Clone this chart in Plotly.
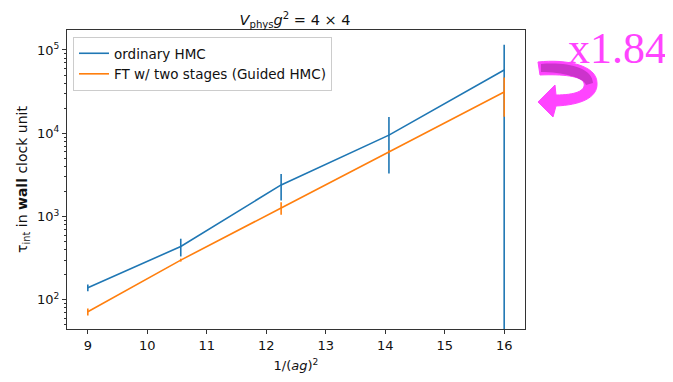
import plotly.graph_objects as go

# ---- data ----
inv_ag2 = [9, 10.5625, 12.25, 14.0625, 16]
hmc_tau = [140, 437, 2400, 9500, 57500]
hmc_err = [13, 105, 840, 6200, 58000]
ft_tau = [72, 300, 1270, 6000, 31250]
ft_err = [7, 12, 220, 250, 15500]
ytick_vals = [100, 1000, 10000, 100000]
ytick_text = ["10<sup>2</sup>", "10<sup>3</sup>", "10<sup>4</sup>", "10<sup>5</sup>"]
ratio_label = "x1.84"

BLUE = "#1f77b4"
ORANGE = "#ff7f0e"
MAG = "#ff44ff"
MAG_DARK = "#cc33cc"

OFF = 8  # page body margin
W, H = 673 - OFF, 382 - OFF
# reference plot area (page px): left 67, right 525, top 30, bottom 329
L, T = 67 - OFF, 30 - OFF
R, B = W - (525 - OFF), H - (329 - OFF)
PW, PH = W - L - R, H - T - B

def px(x, y):
    """reference page pixel -> paper coords"""
    return "%.5f,%.5f" % ((x - 67) / PW, (329 - y) / PH)

FONT = "DejaVu Sans"
fig = go.Figure()
fig.add_trace(go.Scatter(
    x=inv_ag2, y=hmc_tau, mode="lines", name="ordinary HMC",
    line=dict(color=BLUE, width=1.6),
    error_y=dict(type="data", array=hmc_err, color=BLUE, thickness=1.6, width=0),
))
fig.add_trace(go.Scatter(
    x=inv_ag2, y=ft_tau, mode="lines", name="FT w/ two stages (Guided HMC)",
    line=dict(color=ORANGE, width=1.6),
    error_y=dict(type="data", array=ft_err, color=ORANGE, thickness=1.6, width=0),
))

axis_common = dict(
    showline=True, linecolor="#333", linewidth=1, mirror=True,
    ticks="outside", ticklen=4, tickcolor="#333", showgrid=False, zeroline=False,
    tickfont=dict(family=FONT, size=13, color="#111"), automargin=False,
)

fig.update_xaxes(
    range=[8.65, 16.35], tickvals=[9, 10, 11, 12, 13, 14, 15, 16],
    title=dict(text="1/(<i>ag</i>)<sup>2</sup>", font=dict(family=FONT, size=13, color="#111"), standoff=9),
    **axis_common,
)
fig.update_yaxes(
    type="log", range=[1.65, 5.24], tickvals=ytick_vals, ticktext=ytick_text,
    minor=dict(ticks="outside", ticklen=2, tickcolor="#333", dtick="D1", showgrid=False),
    title=dict(text="τ<sub>int</sub> in <b>wall</b> clock unit", font=dict(family=FONT, size=14, color="#111"), standoff=6),
    **axis_common,
)

# curved arrow (decoration)
arrow = ("M" + px(538, 62) + " C" + px(566, 59) + " " + px(597, 65) + " " + px(597, 83) +
         " C" + px(598, 98) + " " + px(580, 105) + " " + px(556, 106) +
         " L" + px(553, 117) + " L" + px(538, 102) + " L" + px(555, 85) + " L" + px(556, 95) +
         " C" + px(575, 95) + " " + px(586, 91) + " " + px(584, 83) +
         " C" + px(582, 76) + " " + px(562, 74) + " " + px(540, 75) + " Z")
band = ("M" + px(541, 64) + " C" + px(566, 62) + " " + px(592, 67) + " " + px(593, 83) +
        " L" + px(586, 85) + " C" + px(585, 78) + " " + px(562, 72) + " " + px(541, 72) + " Z")
fig.add_shape(type="path", path=arrow, xref="paper", yref="paper",
              fillcolor=MAG, line=dict(color=MAG, width=1), layer="above")
fig.add_shape(type="path", path=band, xref="paper", yref="paper",
              fillcolor=MAG_DARK, line=dict(width=0), layer="above")

fig.add_annotation(
    text=ratio_label, xref="paper", yref="paper",
    x=(617 - 67) / PW, y=(329 - 49) / PH, xanchor="center", yanchor="middle",
    showarrow=False, font=dict(family="Liberation Serif", size=44, color=MAG),
)

fig.update_layout(
    width=W, height=H, margin=dict(l=L, r=R, t=T, b=B, autoexpand=False),
    paper_bgcolor="white", plot_bgcolor="white",
    title=dict(text="<i>V</i><sub>phys</sub><i>g</i><sup>2</sup> = 4 × 4",
               x=(295 - OFF) / W, xanchor="center", y=1 - (20 - OFF) / H, yanchor="middle",
               font=dict(family=FONT, size=14.5, color="#111")),
    showlegend=True,
    legend=dict(x=(73 - 67) / PW, y=(329 - 37) / PH, xanchor="left", yanchor="top",
                bgcolor="rgba(255,255,255,0.8)", bordercolor="#ccc", borderwidth=1,
                font=dict(family=FONT, size=13.5, color="#111"),
                tracegroupgap=0, itemwidth=30),
)

fig.write_html("out.html")
